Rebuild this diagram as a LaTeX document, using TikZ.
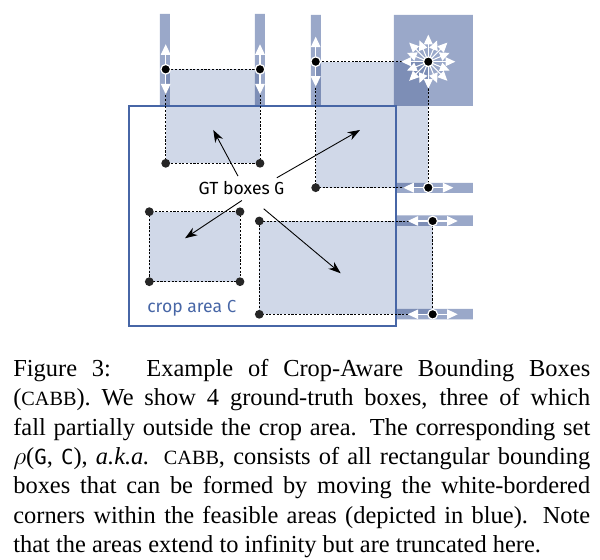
\documentclass[tikz,border=0pt]{standalone}
\usepackage{fontspec}
\setmainfont{Liberation Serif}
\newfontfamily\gtsans{Fira Sans}
\newfontfamily\gtmono[Scale=0.85]{DejaVu Sans Mono}
\usetikzlibrary{arrows.meta}
\definecolor{feas}{HTML}{9AA8C9}
\definecolor{gtfill}{HTML}{D0D8E8}
\definecolor{cropblue}{HTML}{4766A6}
\tikzset{
  area/.style={fill=feas},
  gtbox/.style={fill=gtfill,blend mode=multiply},
  gtedge/.style={line width=0.5pt,dash pattern=on 1.2pt off 0.9pt},
  bcorner/.style={circle,fill=black!85,inner sep=0pt,minimum size=5pt},
  wcorner/.style={circle,fill=black,draw=white,line width=0.7pt,inner sep=0pt,minimum size=5.5pt},
  warr/.style={white,line width=0.6pt,{Triangle[length=6pt,width=5.5pt]}-{Triangle[length=6pt,width=5.5pt]}},
  gtarrow/.style={line width=0.5pt,-{Stealth[length=7pt,width=5pt]}}
}
\begin{document}
\begin{tikzpicture}[x=0.02cm,y=-0.02cm]
\useasboundingbox (0,0) rectangle (600,560);
% corners of the four GT boxes
\path (165.7,69.3) coordinate (a1) (260,69.3) coordinate (a2)
      (165.7,163.3) coordinate (a3) (260,163.3) coordinate (a4)
      (315.7,61.7) coordinate (b1) (428.3,61.7) coordinate (b2)
      (315.7,187.7) coordinate (b3) (428.3,187.7) coordinate (b4)
      (149.3,211.7) coordinate (c1) (240,211.7) coordinate (c2)
      (149.3,281.7) coordinate (c3) (240,281.7) coordinate (c4)
      (259.3,221) coordinate (d1) (432.7,221) coordinate (d2)
      (259.3,314.3) coordinate (d3) (432.7,314.3) coordinate (d4);
% feasible areas
\fill[area] (160,14) rectangle (170,106) (255,14) rectangle (265,106)
      (311,15) rectangle (321,106) (394,15) rectangle (473,106)
      (396,183) rectangle (473,193) (396,215.5) rectangle (473,226)
      (396,309) rectangle (473,319.5);
\foreach \p/\q in {a1/a4,b1/b4,c1/c4,d1/d4}
  \fill[gtbox] (\p) rectangle (\q);
\draw[cropblue,line width=1.2pt] (129,106) rectangle (396,326);
\foreach \p/\q in {a1/a4,b1/b4,c1/c4,d1/d4}
  \draw[gtedge] (\p) rectangle (\q);
% moves of the white-bordered corners
\foreach \x in {a1,a2,b1}
  \draw[warr] ([shift={(0,-25)}]\x) -- ([shift={(0,25)}]\x);
\foreach \x in {b4,d2,d4}
  \draw[warr] ([shift={(-25,0)}]\x) -- ([shift={(25,0)}]\x);
\foreach \goc [count=\i] in {0,22.5,...,337.5}
  \draw[white,line width=0.6pt,-{Triangle[length=5.5pt,width=5pt]}] (b2) -- ++(\goc:{ifthenelse(isodd(\i),27,23)});
\foreach \x in {a3,a4,b3,c1,c2,c3,c4,d1,d3}
  \node[bcorner] (n\x) at (\x) {};
\foreach \x in {a1,a2,b1,b2,b4,d2,d4}
  \node[wcorner] (n\x) at (\x) {};
% labels
\node[font=\gtsans\fontsize{10}{12}\selectfont,inner sep=1pt] (gt) at (241.5,188) {GT boxes {\gtmono\fontsize{11}{12}\selectfont G}};
\node[font=\gtsans\fontsize{10}{12}\selectfont,text=cropblue,inner sep=1pt] (crop) at (192,308.5) {crop area {\gtmono\fontsize{11}{12}\selectfont C}};
\path (213.3,130) coordinate (t1) (360,130) coordinate (t2)
      (185,238.3) coordinate (t3) (340.7,273.3) coordinate (t4);
\draw[gtarrow,shorten <=2pt] (gt.102) -- (t1);
\draw[gtarrow,shorten <=1.6pt] (gt.15) -- (t2);
\draw[gtarrow,shorten <=3.8pt] (gt.-56) -- (t3);
\draw[gtarrow,shorten <=10.6pt] (gt.-48) -- (t4);
% caption
\node[anchor=north west,inner sep=0pt,text width=11.54cm,align=justify,
      font=\fontsize{13.9}{16.7}\selectfont] (cap) at (13,359)
  {Figure 3:\hspace{0.4em} Example of Crop-Aware Bounding Boxes\linebreak
   ({\fontsize{11.5}{12}\selectfont CABB}). We show 4 ground-truth boxes, three of which\linebreak
   fall partially outside the crop area. The corresponding set\linebreak
   $\rho$({\gtmono G}, {\gtmono C}), \textit{a.k.a.} {\fontsize{11.5}{12}\selectfont CABB}, consists of all rectangular bounding\linebreak
   boxes that can be formed by moving the white-bordered\linebreak
   corners within the feasible areas (depicted in blue). Note\linebreak
   that the areas extend to infinity but are truncated here.};
\end{tikzpicture}
\end{document}
